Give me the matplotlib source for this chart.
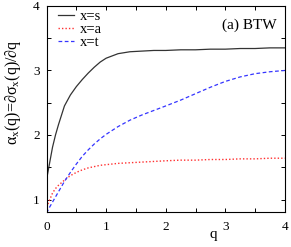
import numpy as np
import matplotlib
matplotlib.use("Agg")
import matplotlib.pyplot as plt
from matplotlib.ticker import MultipleLocator

# values
q = [0, 0.05, 0.1, 0.15, 0.2, 0.3, 0.4, 0.5, 0.6, 0.7, 0.8, 0.9, 1.0,
     1.2, 1.4, 1.6, 1.8, 2.0, 2.25, 2.5, 2.75, 3.0, 3.25, 3.5, 3.75, 4.0]
alpha_s = [1.31, 1.56, 1.81, 2.00, 2.16, 2.45, 2.62, 2.75, 2.86, 2.96, 3.05, 3.13, 3.19,
           3.26, 3.29, 3.30, 3.31, 3.31, 3.32, 3.32, 3.33, 3.33, 3.34, 3.34, 3.35, 3.35]
alpha_a = [0.88, 0.99, 1.10, 1.17, 1.22, 1.30, 1.37, 1.42, 1.46, 1.49, 1.51, 1.53, 1.54,
           1.56, 1.57, 1.58, 1.59, 1.60, 1.61, 1.61, 1.62, 1.62, 1.63, 1.63, 1.64, 1.64]
alpha_t = [0.79, 0.88, 0.96, 1.04, 1.12, 1.28, 1.42, 1.55, 1.67, 1.77, 1.86, 1.94, 2.01,
           2.13, 2.23, 2.31, 2.38, 2.45, 2.54, 2.64, 2.74, 2.83, 2.90, 2.95, 2.98, 3.00]
labels = ["x=s", "x=a", "x=t"]

plt.rcParams["font.family"] = ["Liberation Serif", "DejaVu Serif"]
plt.rcParams["mathtext.fontset"] = "custom"
plt.rcParams["mathtext.rm"] = "Liberation Serif"
plt.rcParams["mathtext.it"] = "Liberation Serif"

fig = plt.figure(figsize=(2.91, 2.47), dpi=100)
ax = fig.add_axes([0.160, 0.140, 0.819, 0.836])

ax.plot(q, alpha_s, color="#333333", lw=0.9, label=labels[0])
ax.plot(q, alpha_a, color="#ff3030", lw=1.0, ls=(0, (1, 1.5)), label=labels[1])
ax.plot(q, alpha_t, color="#3535ff", lw=0.9, ls=(0, (3, 2)), label=labels[2])

ax.set_xlim(0, 4)
ax.set_ylim(0.8, 4)
ax.xaxis.set_major_locator(MultipleLocator(1))
ax.xaxis.set_minor_locator(MultipleLocator(0.5))
ax.yaxis.set_major_locator(MultipleLocator(1))
ax.yaxis.set_minor_locator(MultipleLocator(0.5))
ax.tick_params(which="both", direction="in", top=True, right=True,
               length=3, width=0.7, labelsize=9.5, pad=5)
ax.tick_params(axis="x", pad=6)
for s in ax.spines.values():
    s.set_linewidth(0.8)

ax.set_xlabel("q", fontsize=11)
ax.xaxis.set_label_coords(0.70, -0.075)
ax.set_ylabel(r"α$_\mathrm{x}$(q)=∂σ$_\mathrm{x}$(q)/∂q", fontsize=11.5)
ax.yaxis.set_label_coords(-0.10, 0.58)

ax.text(0.966, 0.908, "(a) BTW", transform=ax.transAxes, ha="right", va="center",
        fontsize=11)

ax.legend(loc="upper left", bbox_to_anchor=(0.025, 1.01), frameon=False, fontsize=10.5,
          handlelength=1.1, handletextpad=0.35, labelspacing=0.0,
          borderaxespad=0.2, borderpad=0.2)

fig.savefig("out.png", dpi=100)
